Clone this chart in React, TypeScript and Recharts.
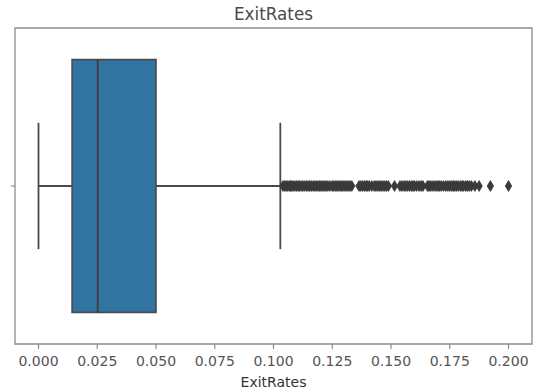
import React from "react";
import {
  ComposedChart,
  XAxis,
  YAxis,
  Scatter,
  ReferenceArea,
  ReferenceLine,
} from "recharts";

// box statistics for ExitRates: [q1, median, q3]
const quartiles = [0.0143, 0.0252, 0.05];
// whisker ends: [low, high]
const whiskers = [0, 0.1029];
// points past the upper whisker
const outliers = [
  0.104, 0.1047, 0.1053, 0.106, 0.1067, 0.1071, 0.1077, 0.1083, 0.1091, 0.1098,
  0.1105, 0.1111, 0.1118, 0.1125, 0.1133, 0.1141, 0.1148, 0.1154, 0.1161, 0.1169,
  0.1176, 0.1183, 0.119, 0.1197, 0.1203, 0.121, 0.1217, 0.1224, 0.1231, 0.124,
  0.125, 0.1256, 0.1263, 0.127, 0.1277, 0.1284, 0.129, 0.1296, 0.1304, 0.1311,
  0.1318, 0.1325, 0.1333, 0.1364, 0.1371, 0.1379, 0.1387, 0.1394, 0.14, 0.1407,
  0.1418, 0.1429, 0.1436, 0.1444, 0.1451, 0.1458, 0.1466, 0.1474, 0.1481, 0.1489,
  0.1515, 0.1538, 0.1547, 0.1556, 0.1563, 0.1571, 0.1579, 0.1587, 0.1594, 0.16,
  0.1609, 0.1619, 0.1628, 0.1636, 0.1655, 0.1661, 0.1667, 0.1675, 0.1684, 0.1692,
  0.17, 0.1707, 0.1714, 0.1724, 0.1733, 0.1742, 0.175, 0.1758, 0.1765, 0.1771,
  0.1778, 0.1786, 0.1795, 0.1802, 0.1809, 0.1818, 0.1825, 0.1833, 0.1842, 0.1857,
  0.1875, 0.1923, 0.2,
];
const xTicks = [0, 0.025, 0.05, 0.075, 0.1, 0.125, 0.15, 0.175, 0.2];

const outlierPoints = outliers.map((v) => ({ x: v, y: 0 }));

const BOX = "#3274a1";
const LINE = "#4a4a4a";
const FRAME = "#8c8c8c";
const FONT = "'DejaVu Sans', sans-serif";

const Diamond = (props: any) => {
  const { cx, cy } = props;
  const w = 3.2;
  const h = 5.4;
  return (
    <path
      d={`M${cx},${cy - h} L${cx + w},${cy} L${cx},${cy + h} L${cx - w},${cy} Z`}
      fill="#3a3a3a"
      stroke="#3a3a3a"
      strokeWidth={0.8}
    />
  );
};

export default function App() {
  const [q1, median, q3] = quartiles;
  const [lo, hi] = whiskers;
  return (
    <div style={{ position: "absolute", left: 0, top: 0, width: 534, height: 392, background: "#fff" }}>
      <div
        style={{
          position: "absolute",
          top: 6,
          left: 15,
          width: 517,
          textAlign: "center",
          fontFamily: FONT,
          fontSize: 16.8,
          lineHeight: 1,
          color: "#4a4a4a",
        }}
      >
        ExitRates
      </div>
      <ComposedChart width={534} height={392} margin={{ top: 28, right: 2, bottom: 0, left: 0 }}>
        <XAxis
          dataKey="x"
          type="number"
          domain={[-0.01, 0.21]}
          ticks={xTicks}
          allowDataOverflow
          tickFormatter={(v: number) => v.toFixed(3)}
          height={48}
          axisLine={false}
          tickSize={5}
          tickMargin={7.5}
          tickLine={{ stroke: FRAME, strokeWidth: 1.2 }}
          tick={{ fill: "#555", fontSize: 14, fontFamily: FONT }}
          label={{
            value: "ExitRates",
            position: "insideBottom",
            offset: 5,
            fill: "#333",
            fontSize: 14,
            fontFamily: FONT,
          }}
        />
        <YAxis
          dataKey="y"
          type="number"
          domain={[-0.5, 0.5]}
          ticks={[0]}
          tickFormatter={() => ""}
          width={15}
          axisLine={false}
          tickSize={4}
          tickLine={{ stroke: FRAME, strokeWidth: 1.2 }}
        />
        {/* whiskers */}
        <ReferenceLine
          segment={[{ x: lo, y: 0 }, { x: q1, y: 0 }]}
          stroke={LINE}
          strokeWidth={1.8}
        />
        <ReferenceLine
          segment={[{ x: q3, y: 0 }, { x: hi, y: 0 }]}
          stroke={LINE}
          strokeWidth={1.8}
        />
        <ReferenceLine
          segment={[{ x: lo, y: -0.2 }, { x: lo, y: 0.2 }]}
          stroke={LINE}
          strokeWidth={1.8}
        />
        <ReferenceLine
          segment={[{ x: hi, y: -0.2 }, { x: hi, y: 0.2 }]}
          stroke={LINE}
          strokeWidth={1.8}
        />
        {/* box */}
        <ReferenceArea
          x1={q1}
          x2={q3}
          y1={-0.4}
          y2={0.4}
          fill={BOX}
          fillOpacity={1}
          stroke={LINE}
          strokeWidth={1.6}
        />
        <ReferenceLine
          segment={[{ x: median, y: -0.4 }, { x: median, y: 0.4 }]}
          stroke="#3d3d3d"
          strokeWidth={1.8}
        />
        <Scatter data={outlierPoints} shape={Diamond} isAnimationActive={false} />
        {/* plot frame */}
        <ReferenceArea
          x1={-0.01}
          x2={0.21}
          y1={-0.5}
          y2={0.5}
          fill="none"
          stroke={FRAME}
          strokeWidth={1.3}
        />
      </ComposedChart>
    </div>
  );
}
